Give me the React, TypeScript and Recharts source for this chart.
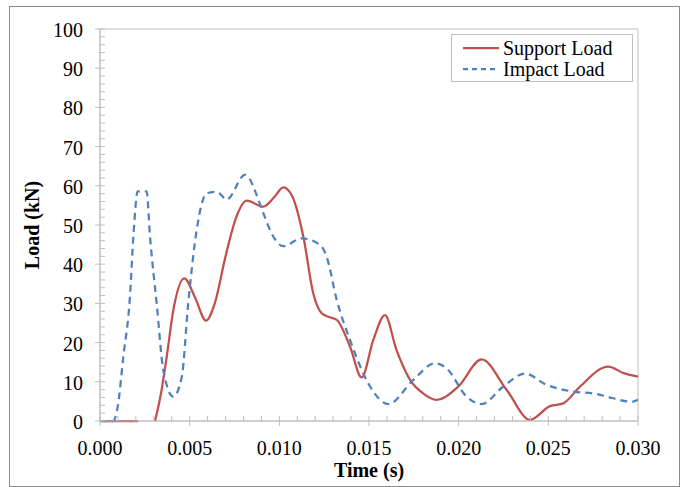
import React from 'react';
import { LineChart, Line, XAxis, YAxis, Legend, ReferenceArea } from 'recharts';

const supportTime = [0, 0.00212, 0.0026, 0.00307, 0.0034, 0.00372, 0.00409, 0.0047, 0.0053, 0.00591, 0.0064, 0.0070, 0.0076, 0.00818, 0.00911, 0.0097, 0.01022, 0.0107, 0.01134, 0.01189, 0.01236, 0.01273, 0.0132, 0.01394, 0.01459, 0.01524, 0.01589, 0.01654, 0.01729, 0.01803, 0.01877, 0.01998, 0.02128, 0.02268, 0.02398, 0.02509, 0.02583, 0.02677, 0.02834, 0.0292, 0.030];
const supportLoad = [0, 0, null, 0, 7, 16.4, 28.3, 36.4, 31.5, 25.6, 30, 42, 52, 56.2, 54.7, 57, 59.6, 57.5, 47, 32.6, 27.5, 26.6, 25.8, 19, 11.1, 20.7, 27, 18, 10.5, 7, 5.4, 8.8, 15.7, 7.9, 0.3, 3.8, 4.5, 8.8, 13.9, 12.2, 11.3];

const impactTime = [0, 0.00072, 0.001, 0.0013, 0.00167, 0.00186, 0.0021, 0.0026, 0.00279, 0.00316, 0.00353, 0.00409, 0.00456, 0.00492, 0.00539, 0.00595, 0.00651, 0.00707, 0.00808, 0.00911, 0.00948, 0.01022, 0.01125, 0.01227, 0.01264, 0.0132, 0.01394, 0.01506, 0.01608, 0.01747, 0.01868, 0.01933, 0.02045, 0.02128, 0.02249, 0.0237, 0.02491, 0.02639, 0.0277, 0.02862, 0.02965, 0.030];
const impactLoad = [0, 0, 4, 16.4, 31.7, 47, 58.6, 58.6, 47, 30, 13, 6.2, 11.3, 30, 48.7, 58.1, 58.5, 56.5, 62.8, 53, 48.7, 44.6, 46.6, 44.9, 41.9, 30.9, 20.7, 8.8, 4.3, 10.5, 14.7, 13.4, 6.2, 4.3, 8.8, 12.1, 9.2, 7.5, 6.9, 5.8, 4.9, 5.4];

const seriesNames = ['Support Load', 'Impact Load'];

const xMajorTicks = [0, 0.005, 0.01, 0.015, 0.02, 0.025, 0.03];
const xAllTicks = [0, 0.001, 0.002, 0.003, 0.004, 0.005, 0.006, 0.007, 0.008, 0.009, 0.01, 0.011, 0.012, 0.013, 0.014, 0.015, 0.016, 0.017, 0.018, 0.019, 0.02, 0.021, 0.022, 0.023, 0.024, 0.025, 0.026, 0.027, 0.028, 0.029, 0.03];
const yMajorTicks = [0, 10, 20, 30, 40, 50, 60, 70, 80, 90, 100];
const yAllTicks = [0, 2, 4, 6, 8, 10, 12, 14, 16, 18, 20, 22, 24, 26, 28, 30, 32, 34, 36, 38, 40, 42, 44, 46, 48, 50, 52, 54, 56, 58, 60, 62, 64, 66, 68, 70, 72, 74, 76, 78, 80, 82, 84, 86, 88, 90, 92, 94, 96, 98, 100];

const supportData = supportTime.map((t, i) => ({ t, v: supportLoad[i] }));
const impactData = impactTime.map((t, i) => ({ t, v: impactLoad[i] }));

const FONT = "'Liberation Serif', 'Times New Roman', serif";
const AXIS = '#bfbfbf';
const RED = '#C0504D';
const BLUE = '#4F81BD';

const isMajor = (arr: number[], v: number) => arr.some((m) => Math.abs(m - v) < 1e-9);

const XTick = (props: any) => {
  const { x, y, payload } = props;
  const v = payload.value;
  const major = isMajor(xMajorTicks, v);
  return (
    <g>
      <line x1={x} x2={x} y1={y - 5} y2={major ? y + 5 : y} stroke={AXIS} strokeWidth={1} />
      {major && (
        <text x={x} y={y + 34} textAnchor="middle" fontFamily={FONT} fontSize={20} fill="#000">
          {v.toFixed(3)}
        </text>
      )}
    </g>
  );
};

const YTick = (props: any) => {
  const { x, y, payload } = props;
  const v = payload.value;
  const major = isMajor(yMajorTicks, v);
  return (
    <g>
      <line x1={major ? x - 5 : x} x2={x + 5} y1={y} y2={y} stroke={AXIS} strokeWidth={1} />
      {major && (
        <text x={x - 17} y={y + 8} textAnchor="end" fontFamily={FONT} fontSize={20} fill="#000">
          {v}
        </text>
      )}
    </g>
  );
};

const renderLegend = (props: any) => {
  const payload = [...(props.payload || [])].sort(
    (a: any, b: any) => seriesNames.indexOf(a.value) - seriesNames.indexOf(b.value)
  );
  return (
    <div
      style={{
        width: 182,
        height: 48,
        border: `1px solid ${AXIS}`,
        boxSizing: 'border-box',
        background: '#fff',
        fontFamily: FONT,
        fontSize: 20,
        color: '#000',
        paddingTop: 3,
      }}
    >
      {payload.map((e: any, i: number) => {
        const dashed = e.payload?.strokeDasharray || e.value === 'Impact Load';
        return (
          <div key={i} style={{ display: 'flex', alignItems: 'center', height: 20.5, lineHeight: '20.5px' }}>
            <svg width={48} height={10} style={{ display: 'block' }}>
              <line x1={11} x2={47} y1={5} y2={5} stroke={e.color} strokeWidth={2.25} strokeDasharray={dashed ? '5 4' : undefined} />
            </svg>
            <span style={{ marginLeft: 3, whiteSpace: 'nowrap' }}>{e.value}</span>
          </div>
        );
      })}
    </div>
  );
};

export default function App() {
  return (
    <div style={{ position: 'absolute', left: 0, top: 0, width: 681, height: 487, background: '#fff' }}>
      <div
        style={{
          position: 'absolute',
          left: 9,
          top: 6,
          width: 671,
          height: 481,
          border: '1px solid #8c8c8c',
          boxSizing: 'border-box',
        }}
      />
      <div style={{ position: 'absolute', left: 0, top: 0 }}>
        <LineChart width={681} height={487} margin={{ top: 29, right: 43, left: 0, bottom: 0 }}>
          <ReferenceArea x1={0} x2={0.03} y1={0} y2={100} fill="none" stroke={AXIS} strokeWidth={1} fillOpacity={0} />
          <XAxis
            dataKey="t"
            type="number"
            domain={[0, 0.03]}
            ticks={xAllTicks}
            interval={0}
            height={66}
            tickSize={0}
            tickMargin={0}
            tickLine={false}
            tick={<XTick />}
            axisLine={{ stroke: AXIS, strokeWidth: 1 }}
            allowDataOverflow
            label={(p: any) => {
              const vb = p.viewBox;
              return (
                <text x={vb.x + vb.width / 2} y={vb.y + 56} textAnchor="middle" fontFamily={FONT} fontSize={20} fontWeight="bold" fill="#000">
                  Time (s)
                </text>
              );
            }}
          />
          <YAxis
            type="number"
            domain={[0, 100]}
            ticks={yAllTicks}
            interval={0}
            width={100}
            tickSize={0}
            tickMargin={0}
            tickLine={false}
            tick={<YTick />}
            axisLine={{ stroke: AXIS, strokeWidth: 1 }}
            label={(p: any) => {
              const vb = p.viewBox;
              const cx = 39;
              const cy = vb.y + vb.height / 2;
              return (
                <text x={cx} y={cy} transform={`rotate(-90, ${cx}, ${cy})`} textAnchor="middle" fontFamily={FONT} fontSize={20} fontWeight="bold" fill="#000">
                  Load (kN)
                </text>
              );
            }}
          />
          <Legend
            layout="vertical"
            verticalAlign="middle"
            align="center"
            content={renderLegend}
            wrapperStyle={{ position: 'absolute', left: 451, top: 34, width: 182, height: 48 }}
          />
          <Line
            data={supportData}
            dataKey="v"
            name="Support Load"
            type="monotone"
            stroke={RED}
            strokeWidth={2.25}
            dot={false}
            activeDot={false}
            connectNulls={false}
            isAnimationActive={false}
          />
          <Line
            data={impactData}
            dataKey="v"
            name="Impact Load"
            type="monotone"
            stroke={BLUE}
            strokeWidth={2.25}
            strokeDasharray="7 5"
            dot={false}
            activeDot={false}
            isAnimationActive={false}
          />
        </LineChart>
      </div>
    </div>
  );
}
